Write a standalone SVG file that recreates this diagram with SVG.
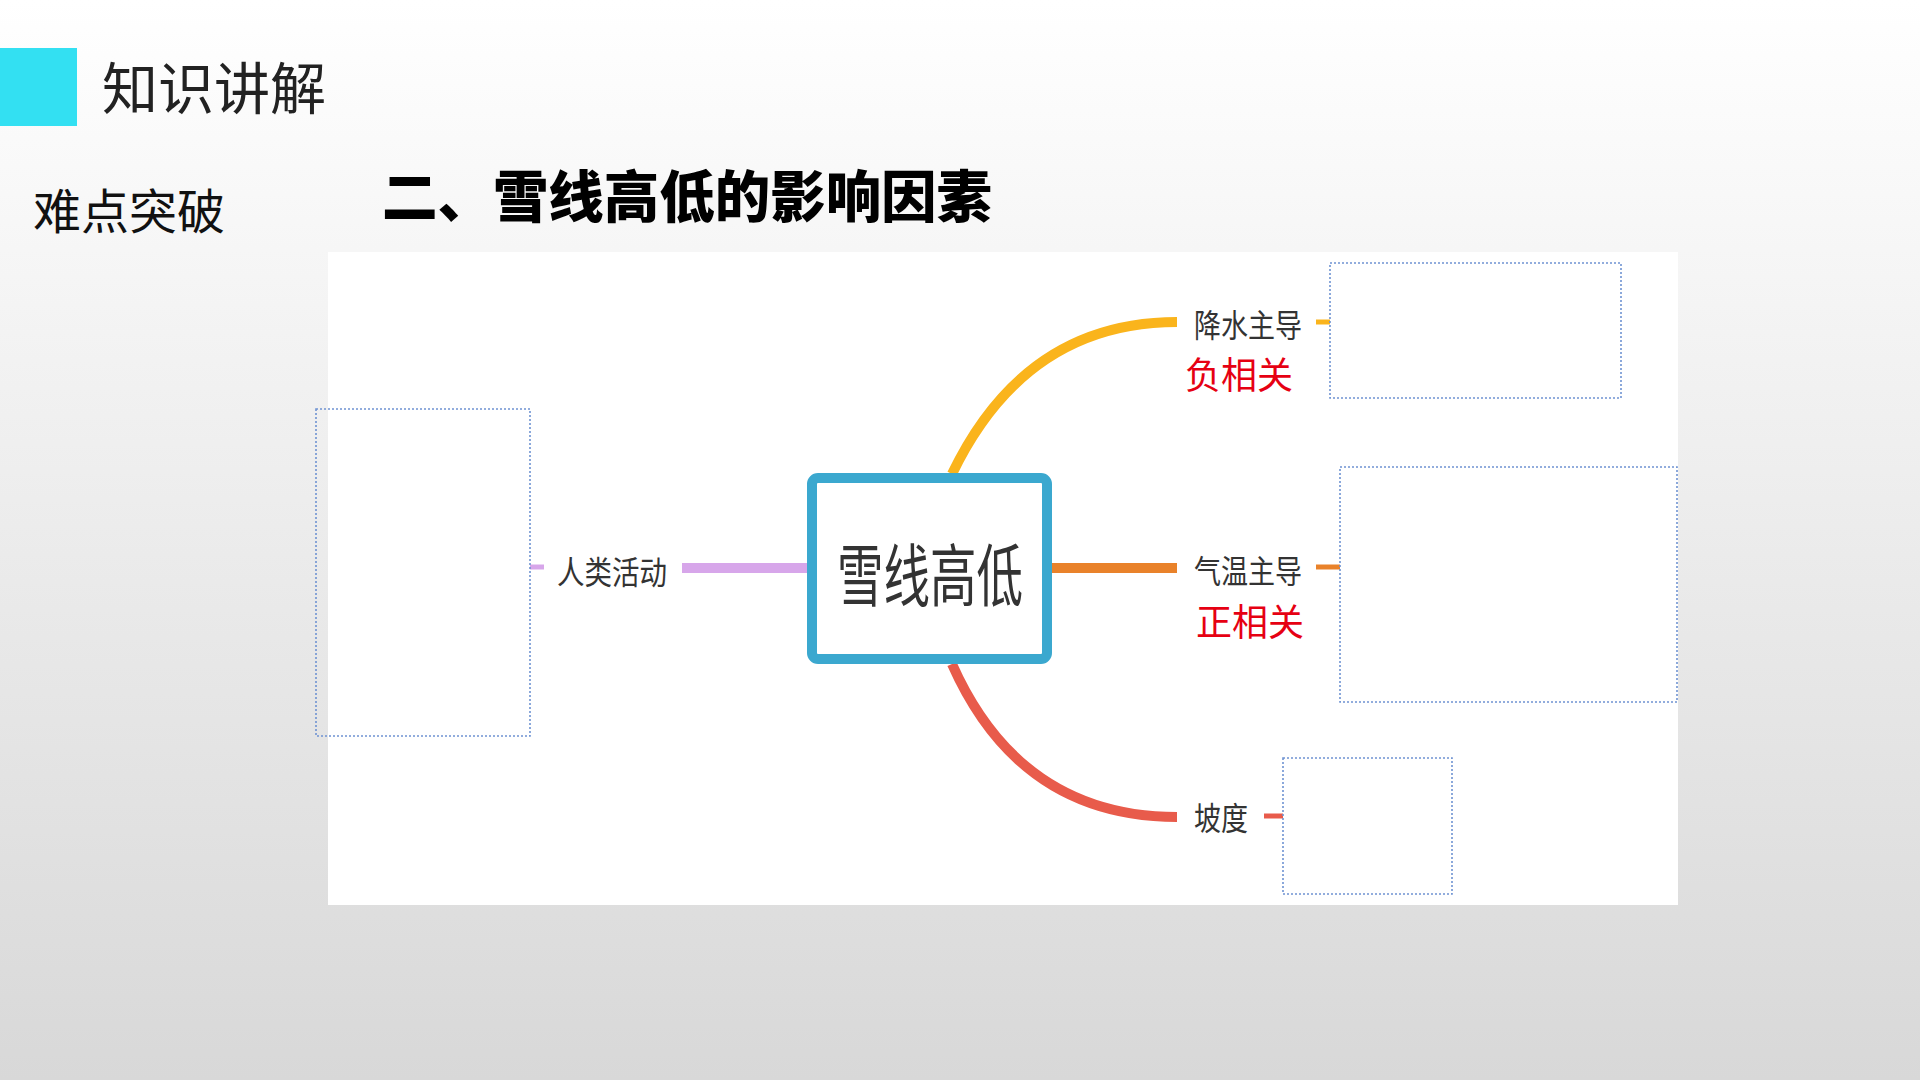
<svg xmlns="http://www.w3.org/2000/svg" width="1920" height="1080" viewBox="0 0 1920 1080">
  <defs>
    <linearGradient id="bg" x1="0" y1="0" x2="0" y2="1">
      <stop offset="0" stop-color="#FFFFFF"/>
      <stop offset="1" stop-color="#D8D8D8"/>
    </linearGradient>
    <style>
      .cjk { font-family: "Noto Sans CJK SC", "Noto Sans", sans-serif; }
      .lbl { font-size: 32px; fill: #333333; }
      .rel { font-size: 37px; fill: #E60012; }
      .box { fill: none; stroke: #6F93D2; stroke-width: 1.6; stroke-dasharray: 2 2; }
      .br { fill: none; stroke-width: 10; stroke-linecap: butt; }
      .stub { fill: none; stroke-width: 5; }
    </style>
  </defs>

  <rect x="0" y="0" width="1920" height="1080" fill="url(#bg)"/>

  <g id="header">
    <rect x="0" y="48" width="77" height="78" fill="#33E0F2"/>
    <text class="cjk" x="102" y="109" font-size="56" fill="#222222">知识讲解</text>
    <text class="cjk" x="33" y="229" font-size="48" fill="#111111">难点突破</text>
    <text class="cjk" x="382" y="217" font-size="56" font-weight="900" fill="#000000" textLength="610" lengthAdjust="spacingAndGlyphs">二、雪线高低的影响因素</text>
  </g>

  <rect id="panel" x="328" y="252" width="1350" height="653" fill="#FFFFFF"/>

  <g id="connectors">
    <path class="br" d="M 952 474 Q 1025 322 1177 322" stroke="#FAB41C"/>
    <line class="br" x1="1051" y1="568" x2="1177" y2="568" stroke="#E9822A"/>
    <path class="br" d="M 952 664 Q 1020 817 1177 817" stroke="#E85B4B"/>
    <line class="br" x1="682" y1="568" x2="808" y2="568" stroke="#D7A6EA"/>
    <line class="stub" x1="1316" y1="322" x2="1330" y2="322" stroke="#FAB41C"/>
    <line class="stub" x1="1316" y1="567" x2="1340" y2="567" stroke="#E9822A"/>
    <line class="stub" x1="1264" y1="816" x2="1283" y2="816" stroke="#E85B4B"/>
    <line class="stub" x1="530" y1="567" x2="544" y2="567" stroke="#D7A6EA"/>
  </g>

  <g id="center-node">
    <rect x="812" y="478" width="235" height="181" rx="6" fill="#FFFFFF" stroke="#3BA8CF" stroke-width="10"/>
    <text class="cjk" x="837" y="601" font-size="68" fill="#333333" textLength="186" lengthAdjust="spacingAndGlyphs">雪线高低</text>
  </g>

  <g id="node-precip">
    <text class="cjk lbl" x="1194" y="337" textLength="108" lengthAdjust="spacingAndGlyphs">降水主导</text>
    <text class="cjk rel" x="1185" y="389" textLength="108" lengthAdjust="spacingAndGlyphs">负相关</text>
    <rect class="box" x="1330" y="263" width="291" height="135"/>
  </g>

  <g id="node-temp">
    <text class="cjk lbl" x="1194" y="583" textLength="108" lengthAdjust="spacingAndGlyphs">气温主导</text>
    <text class="cjk rel" x="1196" y="636" textLength="108" lengthAdjust="spacingAndGlyphs">正相关</text>
    <rect class="box" x="1340" y="467" width="337" height="235"/>
  </g>

  <g id="node-slope">
    <text class="cjk lbl" x="1194" y="830" textLength="54" lengthAdjust="spacingAndGlyphs">坡度</text>
    <rect class="box" x="1283" y="758" width="169" height="136"/>
  </g>

  <g id="node-human">
    <text class="cjk lbl" x="557" y="584" textLength="110" lengthAdjust="spacingAndGlyphs">人类活动</text>
    <rect class="box" x="316" y="409" width="214" height="327"/>
  </g>
</svg>
